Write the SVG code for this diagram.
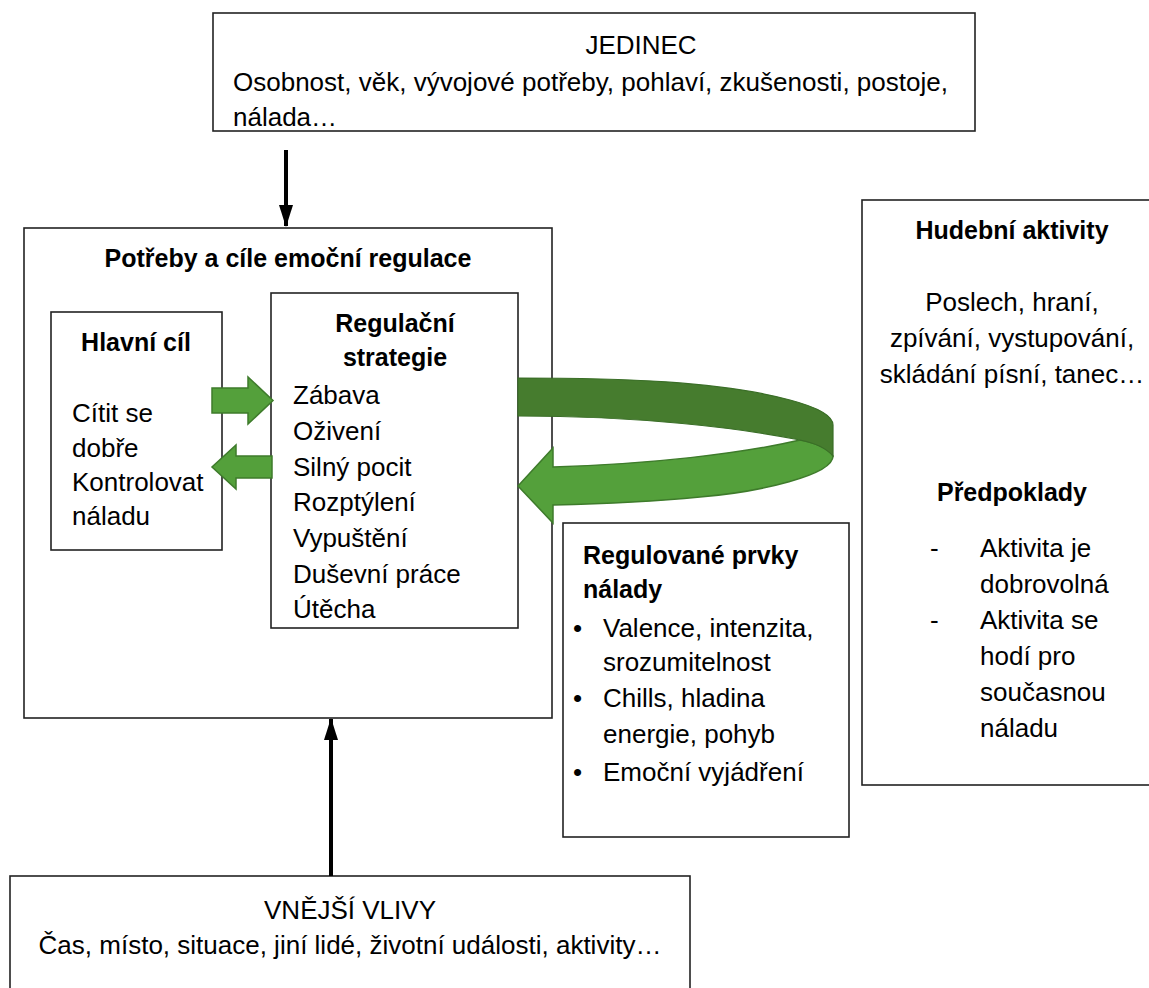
<svg xmlns="http://www.w3.org/2000/svg" width="1149" height="988" viewBox="0 0 1149 988">
<defs>
<style>
.box{fill:#fff;stroke:#222;stroke-width:1.6}
.t{font-family:"Liberation Sans",Arial,sans-serif;font-size:26px;fill:#000}
.b{font-family:"Liberation Sans",Arial,sans-serif;font-size:25px;font-weight:bold;fill:#000}
.c{text-anchor:middle}
.ga{fill:#54a03b;stroke:#3e7b2b;stroke-width:1.5;stroke-linejoin:miter}
.gd{fill:#467c2e;stroke:#3a6e27;stroke-width:1.2}
.conn{stroke:#000;stroke-width:4;fill:none}
</style>
<marker id="ah" viewBox="0 0 22 14" refX="21" refY="7" markerWidth="5.5" markerHeight="3.5" orient="auto" markerUnits="strokeWidth">
<path d="M0,0 L22,7 L0,14 Z" fill="#000"/>
</marker>
</defs>
<rect width="1149" height="988" fill="#fff"/>

<g id="jedinec">
<rect class="box" x="213" y="13" width="762" height="118"/>
<text class="t c" x="641" y="54">JEDINEC</text>
<text class="t" x="233" y="91">Osobnost, věk, vývojové potřeby, pohlaví, zkušenosti, postoje,</text>
<text class="t" x="233" y="126">nálada…</text>
</g>

<g id="potreby">
<rect class="box" x="24" y="228" width="528" height="490"/>
<text class="b c" x="288" y="267">Potřeby a cíle emoční regulace</text>
</g>

<g id="hlavni-cil">
<rect class="box" x="51" y="312" width="171" height="238"/>
<text class="b c" x="136" y="351">Hlavní cíl</text>
<text class="t" x="72" y="422">Cítit se</text>
<text class="t" x="72" y="457">dobře</text>
<text class="t" x="72" y="491">Kontrolovat</text>
<text class="t" x="72" y="525">náladu</text>
</g>

<g id="regulacni-strategie">
<rect class="box" x="271" y="293" width="247" height="335"/>
<text class="b c" x="395" y="332">Regulační</text>
<text class="b c" x="395" y="366">strategie</text>
<text class="t" x="293" y="404">Zábava</text>
<text class="t" x="293" y="440">Oživení</text>
<text class="t" x="293" y="476">Silný pocit</text>
<text class="t" x="293" y="511">Rozptýlení</text>
<text class="t" x="293" y="547">Vypuštění</text>
<text class="t" x="293" y="583">Duševní práce</text>
<text class="t" x="293" y="618">Útěcha</text>
</g>

<g id="regulovane-prvky">
<rect class="box" x="563" y="523" width="286" height="314"/>
<text class="b" x="583" y="564">Regulované prvky</text>
<text class="b" x="583" y="598">nálady</text>
<text class="t" x="573" y="637">•</text>
<text class="t" x="603" y="637">Valence, intenzita,</text>
<text class="t" x="603" y="671">srozumitelnost</text>
<text class="t" x="573" y="707">•</text>
<text class="t" x="603" y="707">Chills, hladina</text>
<text class="t" x="603" y="743">energie, pohyb</text>
<text class="t" x="573" y="781">•</text>
<text class="t" x="603" y="781">Emoční vyjádření</text>
</g>

<g id="hudebni-aktivity">
<rect class="box" x="862" y="200" width="300" height="585"/>
<text class="b c" x="1012" y="239">Hudební aktivity</text>
<text class="t c" x="1012" y="311">Poslech, hraní,</text>
<text class="t c" x="1012" y="347">zpívání, vystupování,</text>
<text class="t c" x="1012" y="383">skládání písní, tanec…</text>
<text class="b c" x="1012" y="501">Předpoklady</text>
<text class="t" x="930" y="557">-</text>
<text class="t" x="980" y="557">Aktivita je</text>
<text class="t" x="980" y="593">dobrovolná</text>
<text class="t" x="930" y="629">-</text>
<text class="t" x="980" y="629">Aktivita se</text>
<text class="t" x="980" y="665">hodí pro</text>
<text class="t" x="980" y="701">současnou</text>
<text class="t" x="980" y="737">náladu</text>
</g>

<g id="vnejsi-vlivy">
<rect class="box" x="10" y="876" width="680" height="130"/>
<text class="t c" x="350" y="919">VNĚJŠÍ VLIVY</text>
<text class="t c" x="350" y="954">Čas, místo, situace, jiní lidé, životní události, aktivity…</text>
</g>

<g id="connectors">
<line class="conn" x1="286" y1="150" x2="286" y2="226" marker-end="url(#ah)"/>
<line class="conn" x1="331" y1="876" x2="331" y2="719" marker-end="url(#ah)"/>
<path class="ga" d="M212,388 L248,388 L248,377 L273,400.5 L248,424 L248,413 L212,413 Z"/>
<path class="ga" d="M272,456 L236,456 L236,445 L212,467 L236,489 L236,478 L272,478 Z"/>
<path class="ga" d="M553,467 C650,464 740,454 800,440 C815,443 830,448 833,456 C833,475 760,492 700,497 C650,502 600,504 553,505 L553,523 L518,486 L553,448 Z"/>
<path class="gd" d="M518,378 C620,378 720,381 790,400 C820,408 833,416 833,425 L833,456 C826,448 815,443 800,440 C740,428 640,416 518,416 Z"/>
</g>
</svg>
